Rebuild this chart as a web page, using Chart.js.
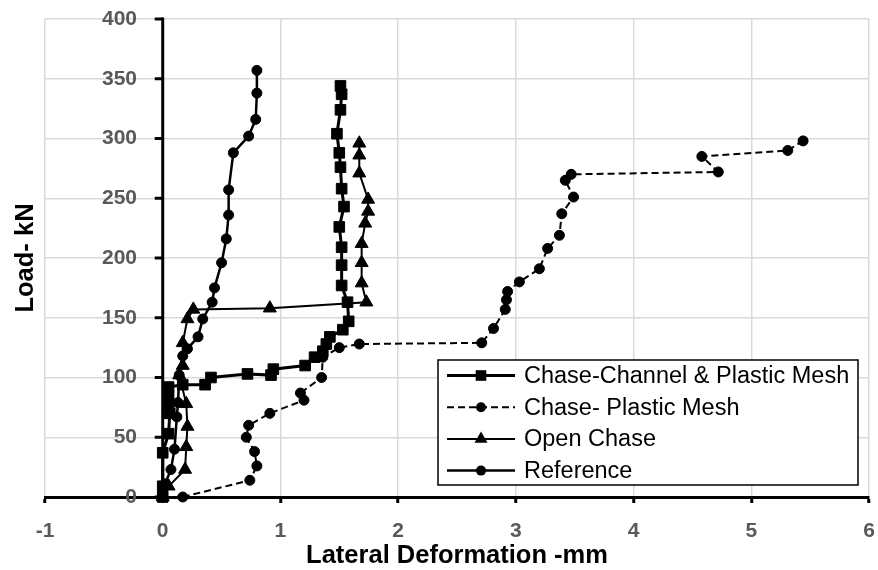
<!DOCTYPE html>
<html><head><meta charset="utf-8">
<script src="https://cdn.jsdelivr.net/npm/chart.js@4.4.0/dist/chart.umd.min.js"></script>
<style>html,body{margin:0;padding:0;background:#fff;}#wrap{width:878px;height:570px;}</style>
</head><body><div id="wrap"><canvas id="c" width="878" height="570"></canvas></div>
<script>
// ---- data ----
const seriesNames = ['Chase-Channel & Plastic Mesh', 'Chase- Plastic Mesh', 'Open Chase', 'Reference'];

const channelX = [0,0,0,0.05,0.06,0.05,0.05,0.05,0.17,0.36,0.41,0.72,0.92,0.94,1.21,1.29,1.36,1.39,1.42,1.53,1.58,1.57,1.52,1.52,1.52,1.50,1.54,1.52,1.51,1.50,1.48,1.51,1.52,1.51];
const channelY = [0,9,37,53,70,78,84,92,94,94,100,103,102,107,110,117,122,128,134,140,147,163,177,194,209,226,243,258,276,288,304,324,337,344];

const plasticX = [0.17,0.74,0.80,0.78,0.71,0.73,0.91,1.20,1.17,1.35,1.36,1.50,1.67,2.71,2.81,2.91,2.92,2.93,3.03,3.20,3.27,3.37,3.39,3.49,3.42,3.47,4.72,4.58,5.31,5.44];
const plasticY = [0,14,26,38,50,60,70,81,87,100,117,125,128,129,141,157,165,172,180,191,208,219,237,251,265,270,272,285,290,298];

const openX = [0,0.05,0.19,0.20,0.21,0.20,0.14,0.17,0.17,0.21,0.26,0.91,1.73,1.69,1.69,1.69,1.72,1.745,1.745,1.67,1.67,1.67];
const openY = [0,9,23,42,59,78,102,110,129,149,157,158,163,179,196,212,229,239,249,271,286,296];

const refX = [0,0.02,0.07,0.10,0.12,0.13,0.14,0.17,0.21,0.30,0.34,0.42,0.44,0.50,0.54,0.56,0.56,0.60,0.73,0.79,0.80,0.80];
const refY = [0,11,23,40,67,79,102,118,124,134,149,163,175,196,216,236,257,288,302,316,338,357];

const xTicks = [-1,0,1,2,3,4,5,6];
const yTicks = [0,50,100,150,200,250,300,350,400];
const xTitle = 'Lateral Deformation -mm';
const yTitle = 'Load- kN';

// ---- build chart ----
const pts = (xs, ys) => xs.map((v, i) => ({x: v, y: ys[i]}));
const FONT = "'Liberation Sans', Arial, sans-serif";

const common = {showLine: true, borderColor: '#000', backgroundColor: '#000', pointBackgroundColor: '#000',
  pointBorderColor: '#000', pointBorderWidth: 1, tension: 0, clip: false, pointHoverRadius: 0};

const datasets = [
  Object.assign({}, common, {label: seriesNames[0], data: pts(channelX, channelY), borderWidth: 3, pointStyle: 'rect', pointRadius: 7.5, order: 4}),
  Object.assign({}, common, {label: seriesNames[1], data: pts(plasticX, plasticY), borderWidth: 2, borderDash: [7, 4], pointStyle: 'circle', pointRadius: 5, order: 3}),
  Object.assign({}, common, {label: seriesNames[2], data: pts(openX, openY), borderWidth: 2, pointStyle: 'triangle', pointRadius: 7.5, order: 2}),
  Object.assign({}, common, {label: seriesNames[3], data: pts(refX, refY), borderWidth: 2.5, pointStyle: 'circle', pointRadius: 5, order: 1})
];

const yAxisAtZero = {
  id: 'yAxisAtZero',
  beforeDatasetsDraw(chart) {
    const {ctx, scales: {x, y}} = chart;
    const px = x.getPixelForValue(0);
    ctx.save();
    ctx.strokeStyle = '#000';
    ctx.lineWidth = 3;
    ctx.beginPath();
    ctx.moveTo(px, y.getPixelForValue(yTicks[yTicks.length - 1]) - 1.5);
    ctx.lineTo(px, y.getPixelForValue(0));
    ctx.stroke();
    yTicks.forEach(t => {
      const py = y.getPixelForValue(t);
      ctx.beginPath();
      ctx.moveTo(px - 8, py);
      ctx.lineTo(px, py);
      ctx.stroke();
    });
    ctx.restore();
  }
};

function marker(ctx, style, r, x, y) {
  ctx.beginPath();
  if (style === 'rect') {
    const s = Math.SQRT1_2 * r;
    ctx.rect(x - s, y - s, 2 * s, 2 * s);
  } else if (style === 'triangle') {
    for (let k = 0; k < 3; k++) {
      const a = -Math.PI / 2 + k * 2 * Math.PI / 3;
      const xx = x + Math.cos(a) * r, yy = y + Math.sin(a) * r;
      if (k === 0) ctx.moveTo(xx, yy); else ctx.lineTo(xx, yy);
    }
    ctx.closePath();
  } else {
    ctx.arc(x, y, r, 0, Math.PI * 2);
  }
  ctx.fill();
}

const boxLegend = {
  id: 'boxLegend',
  afterDraw(chart) {
    const {ctx, chartArea: a} = chart;
    const bx = a.right - 431, by = a.bottom - 137, w = 420, h = 125;
    ctx.save();
    ctx.fillStyle = '#fff';
    ctx.fillRect(bx, by, w, h);
    ctx.strokeStyle = '#000';
    ctx.lineWidth = 1.5;
    ctx.strokeRect(bx, by, w, h);
    chart.data.datasets.forEach((ds, i) => {
      const cy = by + 15.5 + i * 31.7;
      ctx.strokeStyle = '#000';
      ctx.fillStyle = '#000';
      ctx.lineWidth = ds.borderWidth;
      ctx.setLineDash(ds.borderDash || []);
      ctx.beginPath();
      ctx.moveTo(bx + 9, cy);
      ctx.lineTo(bx + 77, cy);
      ctx.stroke();
      ctx.setLineDash([]);
      marker(ctx, ds.pointStyle, ds.pointRadius, bx + 43, cy);
      ctx.font = '23.5px ' + FONT;
      ctx.textBaseline = 'middle';
      ctx.textAlign = 'left';
      ctx.fillText(ds.label, bx + 86, cy + 1);
    });
    ctx.restore();
  }
};

new Chart(document.getElementById('c'), {
  type: 'scatter',
  data: {datasets},
  plugins: [yAxisAtZero, boxLegend],
  options: {
    responsive: false,
    animation: false,
    events: [],
    layout: {padding: {top: 19, right: 9, left: 0, bottom: 0}},
    plugins: {legend: {display: false}, tooltip: {enabled: false}},
    scales: {
      x: {
        type: 'linear', min: xTicks[0], max: xTicks[xTicks.length - 1],
        afterBuildTicks: s => { s.ticks = xTicks.map(v => ({value: v})); },
        afterFit: s => { s.height = 73; s.paddingLeft = 0; s.paddingRight = 0; },
        grid: {color: '#d9d9d9', lineWidth: 1.5, tickColor: '#000', tickLength: 6, tickWidth: 3},
        border: {display: true, color: '#000', width: 3},
        ticks: {color: '#595959', font: {family: FONT, size: 21, weight: 'bold'}, padding: 16, maxRotation: 0},
        title: {display: true, text: xTitle, color: '#000', font: {family: FONT, size: 25.5, weight: 'bold', lineHeight: 1}, padding: {top: 0, bottom: 1}}
      },
      y: {
        type: 'linear', min: yTicks[0], max: yTicks[yTicks.length - 1],
        afterBuildTicks: s => { s.ticks = yTicks.map(v => ({value: v})); },
        afterFit: s => { s.width = 45; s.paddingTop = 10; s.paddingBottom = 10; },
        grid: {color: '#d9d9d9', lineWidth: 1.5, drawTicks: false},
        border: {display: false},
        ticks: {color: '#595959', font: {family: FONT, size: 21, weight: 'bold'}, mirror: true, crossAlign: 'far', padding: 57},
        title: {display: true, text: yTitle, color: '#000', font: {family: FONT, size: 25.5, weight: 'bold', lineHeight: 1}, padding: {top: 13, bottom: 0}}
      }
    }
  }
});
</script>
</body></html>
